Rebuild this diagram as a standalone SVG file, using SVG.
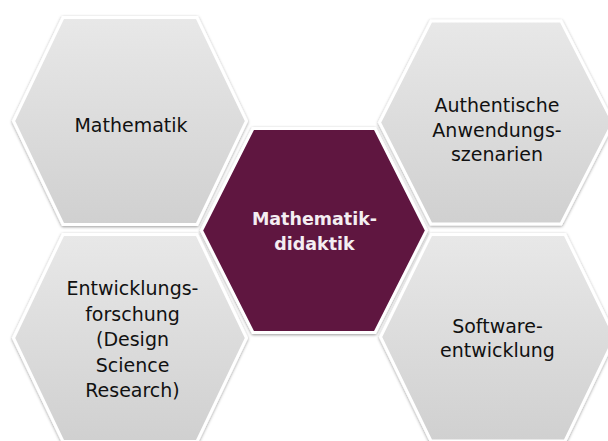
<svg xmlns="http://www.w3.org/2000/svg" width="608" height="441" viewBox="0 0 608 441">
  <defs>
    <linearGradient id="gray" x1="0" y1="0" x2="0" y2="1">
      <stop offset="0" stop-color="#e8e8e8"/>
      <stop offset="1" stop-color="#d0d0d0"/>
    </linearGradient>
    <filter id="shadow" x="-10%" y="-10%" width="120%" height="120%">
      <feDropShadow dx="0" dy="1" stdDeviation="1.6" flood-color="#000" flood-opacity="0.4"/>
    </filter>
  </defs>
  <style>
    .hex { fill: url(#gray); stroke: #ffffff; stroke-width: 3; stroke-linejoin: miter; filter: url(#shadow); }
    .core { fill: #5e1540; stroke: #ffffff; stroke-width: 3; stroke-linejoin: miter; filter: url(#shadow); }
    .lbl { font-family: "DejaVu Sans", "Liberation Sans", sans-serif; font-size: 19px; fill: #111111; text-anchor: middle; }
    .clbl { font-family: "DejaVu Sans", "Liberation Sans", sans-serif; font-size: 17.5px; font-weight: bold; fill: #f4eef2; text-anchor: middle; }
  </style>
  <rect width="608" height="441" fill="#ffffff"/>
  <g id="connectors"/>
  <g id="node-mathematik">
    <polygon class="hex" points="13.5,121 63,17.5 197,17.5 246.5,121 197,224.5 63,224.5"/>
    <text class="lbl" x="131" y="132">Mathematik</text>
  </g>
  <g id="node-szenarien">
    <polygon class="hex" points="379.5,122.5 431,21 561,21 613,122.5 561,224 431,224"/>
    <text class="lbl" x="497" y="112">Authentische</text>
    <text class="lbl" x="497" y="137">Anwendungs-</text>
    <text class="lbl" x="497" y="161">szenarien</text>
  </g>
  <g id="node-entwicklungsforschung">
    <polygon class="hex" points="13.5,338 63,234.5 197,234.5 246.5,338 197,441.5 63,441.5"/>
    <text class="lbl" x="132.5" y="295">Entwicklungs-</text>
    <text class="lbl" x="132.5" y="320.5">forschung</text>
    <text class="lbl" x="132.5" y="346">(Design</text>
    <text class="lbl" x="132.5" y="371.5">Science</text>
    <text class="lbl" x="132.5" y="397">Research)</text>
  </g>
  <g id="node-softwareentwicklung">
    <polygon class="hex" points="380.5,337 431,234.5 565,234.5 615,337 565,441 431,441"/>
    <text class="lbl" x="497.5" y="333">Software-</text>
    <text class="lbl" x="497.5" y="357">entwicklung</text>
  </g>
  <g id="node-mathematikdidaktik">
    <polygon class="core" points="201.5,230.5 253,128.5 375,128.5 426.5,230.5 375,332.5 253,332.5"/>
    <text class="clbl" x="314.5" y="225">Mathematik-</text>
    <text class="clbl" x="314.5" y="250">didaktik</text>
  </g>
</svg>
